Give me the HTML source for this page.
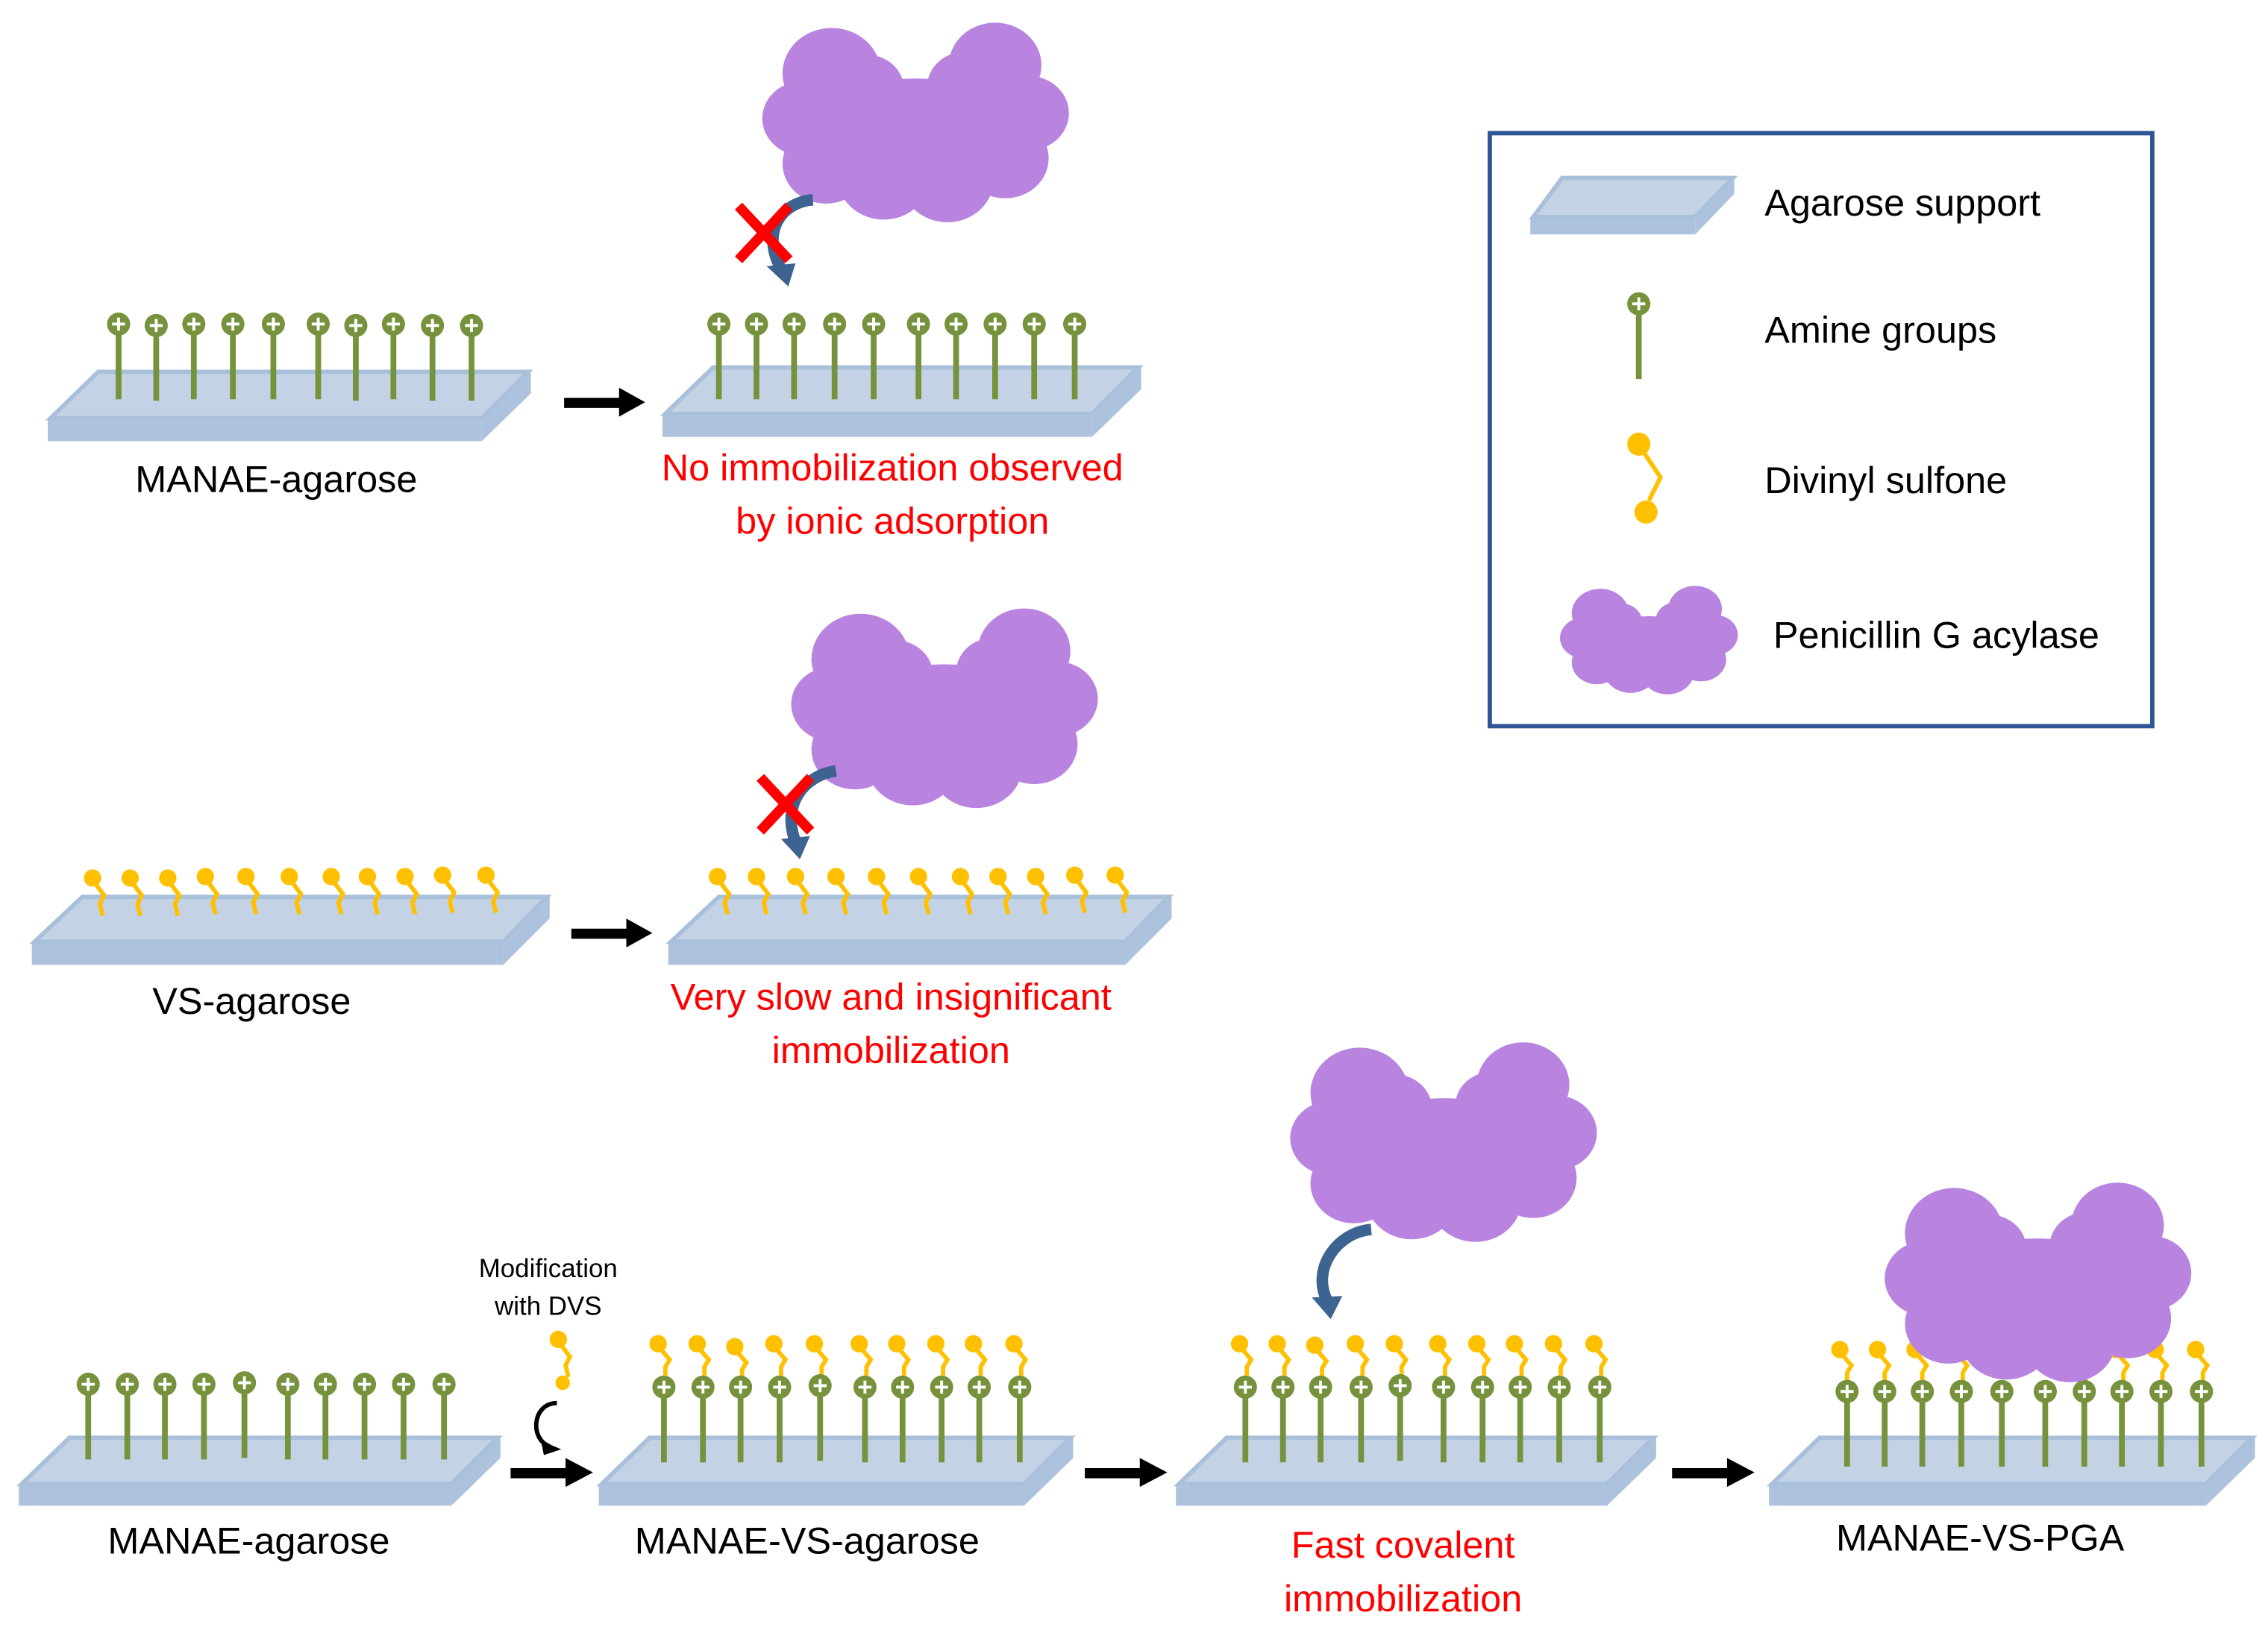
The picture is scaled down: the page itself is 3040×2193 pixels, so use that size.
<!DOCTYPE html>
<html><head><meta charset="utf-8"><style>
html,body{margin:0;padding:0;background:#fff;}
svg{display:block;}
text{font-family:"Liberation Sans",sans-serif;}
</style></head><body>
<svg width="3040" height="2193" viewBox="0 0 1568 1131" xmlns="http://www.w3.org/2000/svg">
<defs>
<g id="am">
<line x1="0" y1="6" x2="0" y2="52" stroke="#76923c" stroke-width="4"/>
<circle cx="0" cy="0" r="8" fill="#76923c"/>
<line x1="-4.5" y1="0" x2="4.5" y2="0" stroke="#fff" stroke-width="2"/>
<line x1="0" y1="-4.5" x2="0" y2="4.5" stroke="#fff" stroke-width="2"/>
</g>
<g id="vs">
<circle cx="0" cy="0" r="6" fill="#ffc000"/>
<path d="M2,4 L8,12 L5,18 L7,26" fill="none" stroke="#ffc000" stroke-width="3"/>
</g>
<g id="vs2">
<circle cx="0" cy="0" r="6" fill="#ffc000"/>
<path d="M2,4 L8,11 L5,16 L5,22" fill="none" stroke="#ffc000" stroke-width="3"/>
</g>
<g id="cloud" fill="#b884e0">
<circle cx="-58" cy="-32" r="34"/>
<circle cx="-78" cy="2" r="28"/>
<circle cx="-62" cy="36" r="30"/>
<circle cx="-22" cy="46" r="32"/>
<circle cx="22" cy="48" r="32"/>
<circle cx="62" cy="32" r="30"/>
<circle cx="78" cy="-2" r="28"/>
<circle cx="55" cy="-38" r="32"/>
<ellipse cx="0" cy="14" rx="74" ry="42"/>
<circle cx="-34" cy="-20" r="26"/>
<circle cx="34" cy="-22" r="26"/>
</g>
</defs>

<g id="plates">
<g fill="#c3d3e5" stroke="#a9c0da" stroke-width="3">
<polygon points="68,257 365,257 333,289 35,289"/>
<polygon points="493,254 787,254 755,286 460,286"/>
<polygon points="57,620 378,620 348,651 24,651"/>
<polygon points="497,620 808,620 778,651 464,651"/>
<polygon points="48,994 344,994 312,1026 15,1026"/>
<polygon points="449,994 740,994 708,1026 416,1026"/>
<polygon points="848,994 1143,994 1111,1026 815,1026"/>
<polygon points="1258,994 1557,994 1525,1026 1225,1026"/>
</g>
<g fill="#adc3dd">
<rect x="33" y="290" width="300" height="15"/>
<rect x="458" y="287" width="297" height="15"/>
<rect x="22" y="652" width="326" height="15"/>
<rect x="462" y="652" width="316" height="15"/>
<rect x="13" y="1027" width="299" height="14"/>
<rect x="414" y="1027" width="294" height="14"/>
<rect x="813" y="1027" width="298" height="14"/>
<rect x="1223" y="1027" width="302" height="14"/>
<polygon points="333,290 367,257 367,272 333,305"/>
<polygon points="755,287 789,254 789,269 755,302"/>
<polygon points="348,652 380,620 380,635 348,667"/>
<polygon points="778,652 810,620 810,635 778,667"/>
<polygon points="312,1027 346,994 346,1008 312,1041"/>
<polygon points="708,1027 742,994 742,1008 708,1041"/>
<polygon points="1111,1027 1145,994 1145,1008 1111,1041"/>
<polygon points="1525,1027 1559,994 1559,1008 1525,1041"/>
</g>
</g>

<use href="#am" x="82" y="224"/><use href="#am" x="108" y="225"/><use href="#am" x="134" y="224"/><use href="#am" x="161" y="224"/><use href="#am" x="189" y="224"/><use href="#am" x="220" y="224"/><use href="#am" x="246" y="225"/><use href="#am" x="272" y="224"/><use href="#am" x="299" y="225"/><use href="#am" x="326" y="225"/>
<use href="#am" x="497" y="224"/><use href="#am" x="523" y="224"/><use href="#am" x="549" y="224"/><use href="#am" x="577" y="224"/><use href="#am" x="604" y="224"/><use href="#am" x="635" y="224"/><use href="#am" x="661" y="224"/><use href="#am" x="688" y="224"/><use href="#am" x="715" y="224"/><use href="#am" x="743" y="224"/>

<use href="#vs" x="64" y="607"/><use href="#vs" x="90" y="607"/><use href="#vs" x="116" y="607"/><use href="#vs" x="142" y="606"/><use href="#vs" x="170" y="606"/><use href="#vs" x="200" y="606"/><use href="#vs" x="229" y="606"/><use href="#vs" x="254" y="606"/><use href="#vs" x="280" y="606"/><use href="#vs" x="306" y="605"/><use href="#vs" x="336" y="605"/>
<use href="#vs" x="496" y="606"/><use href="#vs" x="523" y="606"/><use href="#vs" x="550" y="606"/><use href="#vs" x="578" y="606"/><use href="#vs" x="606" y="606"/><use href="#vs" x="635" y="606"/><use href="#vs" x="664" y="606"/><use href="#vs" x="690" y="606"/><use href="#vs" x="716" y="606"/><use href="#vs" x="743" y="605"/><use href="#vs" x="771" y="605"/>

<use href="#am" x="61" y="957"/><use href="#am" x="88" y="957"/><use href="#am" x="114" y="957"/><use href="#am" x="141" y="957"/><use href="#am" x="169" y="956"/><use href="#am" x="199" y="957"/><use href="#am" x="225" y="957"/><use href="#am" x="252" y="957"/><use href="#am" x="279" y="957"/><use href="#am" x="307" y="957"/>

<g>
<use href="#vs2" x="455" y="929"/><use href="#vs2" x="482" y="929"/><use href="#vs2" x="508" y="931"/><use href="#vs2" x="535" y="929"/><use href="#vs2" x="563" y="929"/><use href="#vs2" x="594" y="929"/><use href="#vs2" x="620" y="929"/><use href="#vs2" x="647" y="929"/><use href="#vs2" x="673" y="929"/><use href="#vs2" x="701" y="929"/>
<use href="#am" x="459" y="959"/><use href="#am" x="486" y="959"/><use href="#am" x="512" y="959"/><use href="#am" x="539" y="959"/><use href="#am" x="567" y="958"/><use href="#am" x="598" y="959"/><use href="#am" x="624" y="959"/><use href="#am" x="651" y="959"/><use href="#am" x="677" y="959"/><use href="#am" x="705" y="959"/>
</g>
<g>
<use href="#vs2" x="857" y="929"/><use href="#vs2" x="883" y="929"/><use href="#vs2" x="909" y="930"/><use href="#vs2" x="937" y="929"/><use href="#vs2" x="964" y="929"/><use href="#vs2" x="994" y="929"/><use href="#vs2" x="1021" y="929"/><use href="#vs2" x="1047" y="929"/><use href="#vs2" x="1074" y="929"/><use href="#vs2" x="1102" y="929"/>
<use href="#am" x="861" y="959"/><use href="#am" x="887" y="959"/><use href="#am" x="913" y="959"/><use href="#am" x="941" y="959"/><use href="#am" x="968" y="958"/><use href="#am" x="998" y="959"/><use href="#am" x="1025" y="959"/><use href="#am" x="1051" y="959"/><use href="#am" x="1078" y="959"/><use href="#am" x="1106" y="959"/>
</g>
<g>
<use href="#vs2" x="1272" y="933"/><use href="#vs2" x="1298" y="933"/><use href="#vs2" x="1324" y="933"/><use href="#vs2" x="1352" y="933"/><use href="#vs2" x="1437" y="933"/><use href="#vs2" x="1463" y="933"/><use href="#vs2" x="1490" y="933"/><use href="#vs2" x="1518" y="933"/>
<use href="#am" x="1277" y="962"/><use href="#am" x="1303" y="962"/><use href="#am" x="1329" y="962"/><use href="#am" x="1356" y="962"/><use href="#am" x="1384" y="962"/><use href="#am" x="1414" y="962"/><use href="#am" x="1441" y="962"/><use href="#am" x="1467" y="962"/><use href="#am" x="1494" y="962"/><use href="#am" x="1522" y="962"/>
</g>

<use href="#cloud" transform="translate(633,80) scale(1.0,0.92)"/>
<use href="#cloud" transform="translate(653,485) scale(1.0,0.92)"/>
<use href="#cloud" transform="translate(998,785) scale(1.0,0.92)"/>
<use href="#cloud" transform="translate(1409,882) scale(1.0,0.92)"/>
<use href="#cloud" transform="translate(1140,440) scale(0.58,0.5)"/>

<g fill="none" stroke="#3d6390" stroke-width="8">
<path d="M562,138 C540,140 526,160 540,186"/>
<path d="M578,533 C556,536 540,556 550,582"/>
<path d="M948,850 C924,852 906,878 918,900"/>
</g>
<g fill="#3d6390">
<polygon points="530,184 550,182 545,198"/>
<polygon points="540,580 560,578 553,594"/>
<polygon points="907,897 928,896 920,912"/>
</g>
<g stroke="#ff0000" stroke-width="7" stroke-linecap="square">
<line x1="513" y1="145" x2="543" y2="177"/><line x1="543" y1="145" x2="513" y2="177"/>
<line x1="528" y1="540" x2="558" y2="572"/><line x1="558" y1="540" x2="528" y2="572"/>
</g>

<path d="M385,970 C368,970 366,995 380,1000" fill="none" stroke="#000" stroke-width="3"/>
<polygon points="374,996 388,1002 376,1006" fill="#000"/>
<use href="#vs" x="386" y="926"/>
<circle cx="389" cy="956" r="5" fill="#ffc000"/>

<g fill="#000">
<rect x="390" y="275" width="40" height="7"/><polygon points="428,268 446,278 428,288"/>
<rect x="395" y="642" width="40" height="7"/><polygon points="433,635 451,645 433,655"/>
<rect x="353" y="1015" width="40" height="7"/><polygon points="391,1008 410,1018 391,1028"/>
<rect x="750" y="1015" width="40" height="7"/><polygon points="788,1008 807,1018 788,1028"/>
<rect x="1156" y="1015" width="40" height="7"/><polygon points="1194,1008 1213,1018 1194,1028"/>
</g>

<g font-size="26" text-anchor="middle" fill="#000">
<text x="191" y="340">MANAE-agarose</text>
<text x="174" y="701">VS-agarose</text>
<text x="172" y="1074">MANAE-agarose</text>
<text x="558" y="1074">MANAE-VS-agarose</text>
<text x="1369" y="1072">MANAE-VS-PGA</text>
</g>
<g font-size="26" text-anchor="middle" fill="#ff0000">
<text x="617" y="332">No immobilization observed</text>
<text x="617" y="369">by ionic adsorption</text>
<text x="616" y="698">Very slow and insignificant</text>
<text x="616" y="735">immobilization</text>
<text x="970" y="1077">Fast covalent</text>
<text x="970" y="1114">immobilization</text>
</g>
<g font-size="18" text-anchor="middle" fill="#000">
<text x="379" y="883">Modification</text>
<text x="379" y="909">with DVS</text>
</g>

<rect x="1030" y="92" width="458" height="410" fill="none" stroke="#2f5597" stroke-width="3"/>
<polygon points="1080,123 1198,123 1172,150 1060,150" fill="#c3d3e5" stroke="#a9c0da" stroke-width="3"/>
<rect x="1058" y="151" width="114" height="11" fill="#adc3dd"/>
<polygon points="1172,151 1199,123 1199,134 1172,162" fill="#adc3dd"/>
<line x1="1133" y1="214" x2="1133" y2="262" stroke="#76923c" stroke-width="4"/>
<circle cx="1133" cy="210" r="8" fill="#76923c"/>
<line x1="1128.5" y1="210" x2="1137.5" y2="210" stroke="#fff" stroke-width="2"/>
<line x1="1133" y1="205.5" x2="1133" y2="214.5" stroke="#fff" stroke-width="2"/>
<circle cx="1133" cy="307" r="8" fill="#ffc000"/>
<path d="M1136,312 L1148,330 L1140,346" fill="none" stroke="#ffc000" stroke-width="3"/>
<circle cx="1138" cy="354" r="8" fill="#ffc000"/>
<g font-size="26" fill="#000">
<text x="1220" y="149">Agarose support</text>
<text x="1220" y="237">Amine groups</text>
<text x="1220" y="341">Divinyl sulfone</text>
<text x="1226" y="448">Penicillin G acylase</text>
</g>
</svg>
</body></html>
